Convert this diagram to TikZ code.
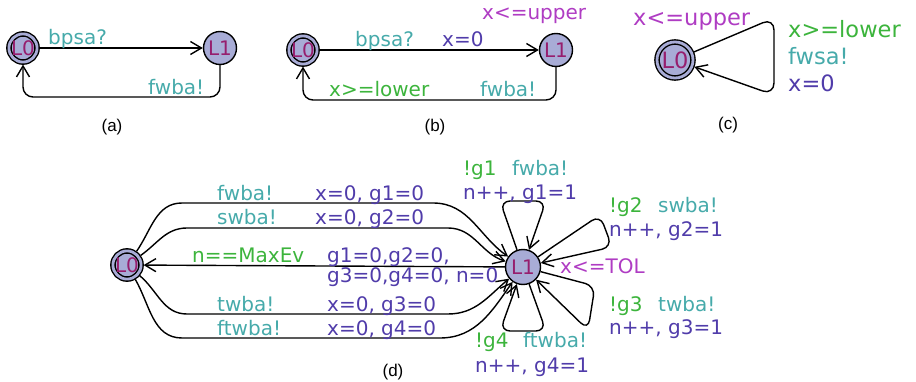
\documentclass[tikz,border=0pt]{standalone}
\usepackage{fontspec}
\setmainfont{DejaVu Sans}
\newfontfamily\capfont{Liberation Sans}
\usetikzlibrary{arrows.meta}
\definecolor{chan}{RGB}{70,170,170}
\definecolor{guard}{RGB}{60,180,60}
\definecolor{upd}{RGB}{80,60,170}
\definecolor{inv}{RGB}{175,60,195}
\definecolor{locname}{RGB}{150,30,110}
\definecolor{locfill}{RGB}{168,172,214}
\tikzset{
  loc/.style={circle, draw, line width=1.4pt, fill=locfill, minimum size=33pt, inner sep=0pt, text=locname, font=\fontsize{20}{22}\selectfont},
  init/.style={loc, double=locfill, double distance=2.8pt, minimum size=28pt, outer sep=2.5pt},
  trans/.style={line width=1.4pt, -{Straight Barb[length=11pt,width=13pt]}},
  lbl/.style={anchor=base west, inner sep=0pt, font=\fontsize{20}{22}\selectfont},
  subcap/.style={font=\capfont\fontsize{17}{19}\selectfont}
}
\begin{document}
\begin{tikzpicture}[x=1pt,y=1pt]
    \useasboundingbox (0,0) rectangle (916,-382);
    \node[init] (a0) at (23,-48) {L0};
    \node[loc]  (a1) at (220,-48) {L1};
    \draw[trans] (a0) -- (a1);
    \draw[trans, rounded corners=10pt] (a1.south) -- (220,-97) -- (23,-97) -- (a0.south);
    \node[lbl, text=chan] (aSync) at (48,-45) {bpsa?};
    \node[lbl, text=chan] (aRet)  at (148,-95) {fwba!};
    \node[subcap] (capA) at (112,-127) {(a)};

    \node[init] (b0) at (303,-50) {L0};
    \node[loc]  (b1) at (556,-50) {L1};
    \draw[trans] (b0) -- (b1);
    \draw[trans, rounded corners=10pt] (b1.south) -- (556,-100) -- (303,-100) -- (b0.south);
    \node[lbl, text=chan]  (bSync) at (355,-47) {bpsa?};
    \node[lbl, text=upd]   (bUpd)  at (442,-47) {x=0};
    \node[lbl, text=inv]   (bInv)  at (482,-20) {x<=upper};
    \node[lbl, text=guard] (bGrd)  at (329,-97) {x>=lower};
    \node[lbl, text=chan]  (bRet)  at (480,-97) {fwba!};
    \node[subcap] (capB) at (435,-127) {(b)};

    \node[init, minimum size=36pt, font=\fontsize{22.5}{24}\selectfont] (c0) at (675,-60) {L0};
    \draw[trans, rounded corners=12pt] (c0) -- (774,-18) -- (774,-95) -- (c0);
    \node[lbl, text=inv,   font=\fontsize{22.5}{24}\selectfont] (cInv)  at (633,-26) {x<=upper};
    \node[lbl, text=guard, font=\fontsize{22.5}{24}\selectfont] (cGrd)  at (788,-38) {x>=lower};
    \node[lbl, text=chan,  font=\fontsize{22.5}{24}\selectfont] (cSync) at (788,-65) {fwsa!};
    \node[lbl, text=upd,   font=\fontsize{22.5}{24}\selectfont] (cUpd)  at (788,-92) {x=0};
    \node[subcap] (capC) at (728,-125) {(c)};

    \node[init] (d0) at (127,-265) {L0};
    \node[loc, minimum size=35pt] (d1) at (523,-267) {L1};
    \draw[trans] (d0) to[out=55,in=180] (182,-203) -- (433,-203) to[out=0,in=145] (d1);
    \draw[trans] (d0) to[out=35,in=180] (187,-228) -- (448,-228) to[out=0,in=162] (d1);
    \draw[trans] (d1) -- (d0);
    \draw[trans] (d0) to[out=-40,in=180] (187,-314) -- (448,-314) to[out=0,in=-140] (d1);
    \draw[trans] (d0) to[out=-60,in=180] (182,-338) -- (440,-338) to[out=0,in=-125] (d1);
    \draw[trans, rounded corners=10pt] (d1) -- (500,-201) -- (546,-201) -- (d1);
    \draw[trans, rounded corners=10pt] (d1) -- (600,-215) -- (612,-247) -- (d1);
    \draw[trans, rounded corners=10pt] (d1) -- (595,-286) -- (588,-330) -- (d1);
    \draw[trans, rounded corners=10pt] (d1) -- (546,-331) -- (500,-331) -- (d1);
    \node[lbl, text=chan]  (dFw)    at (217,-201) {fwba!};
    \node[lbl, text=upd]   (dFwU)   at (315,-201) {x=0, g1=0};
    \node[lbl, text=chan]  (dSw)    at (217,-225) {swba!};
    \node[lbl, text=upd]   (dSwU)   at (315,-225) {x=0, g2=0};
    \node[lbl, text=guard] (dMax)   at (192,-262) {n==MaxEv};
    \node[lbl, text=upd]   (dRstA)  at (327,-262) {g1=0,g2=0,};
    \node[lbl, text=upd]   (dRstB)  at (327,-283) {g3=0,g4=0, n=0};
    \node[lbl, text=chan]  (dTw)    at (217,-311) {twba!};
    \node[lbl, text=upd]   (dTwU)   at (327,-311) {x=0, g3=0};
    \node[lbl, text=chan]  (dFtw)   at (217,-335) {ftwba!};
    \node[lbl, text=upd]   (dFtwU)  at (327,-335) {x=0, g4=0};
    \node[lbl, text=guard] (lpAg)   at (463,-176) {!g1};
    \node[lbl, text=chan]  (lpAs)   at (512,-176) {fwba!};
    \node[lbl, text=upd]   (lpAu)   at (463,-200) {n++, g1=1};
    \node[lbl, text=guard] (lpBg)   at (609,-213) {!g2};
    \node[lbl, text=chan]  (lpBs)   at (658,-213) {swba!};
    \node[lbl, text=upd]   (lpBu)   at (609,-237) {n++, g2=1};
    \node[lbl, text=inv]   (dInv)   at (560,-273) {x<=TOL};
    \node[lbl, text=guard] (lpCg)   at (609,-311) {!g3};
    \node[lbl, text=chan]  (lpCs)   at (658,-311) {twba!};
    \node[lbl, text=upd]   (lpCu)   at (609,-334) {n++, g3=1};
    \node[lbl, text=guard] (lpDg)   at (475,-347) {!g4};
    \node[lbl, text=chan]  (lpDs)   at (523,-347) {ftwba!};
    \node[lbl, text=upd]   (lpDu)   at (475,-372) {n++, g4=1};
    \node[subcap] (capD) at (393,-372) {(d)};
\end{tikzpicture}
\end{document}
